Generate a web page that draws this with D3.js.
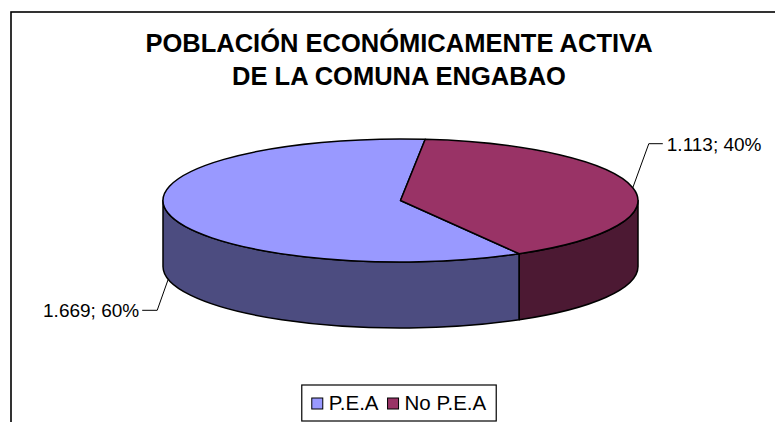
<!doctype html>
<html>
<head>
<meta charset="utf-8">
<style type="text/css">
html,body{
    margin: 0;
    overflow: hidden;
    background: #ffffff;
}
text {
    font-family: "Liberation Sans", Arial, sans-serif;
    fill: #000000;
}
</style>
<script type="text/javascript" src="https://cdn.jsdelivr.net/npm/d3@7/dist/d3.min.js"></script>
</head>
<body>
<script type="text/javascript">
// data
var categories = ["P.E.A", "No P.E.A"],
    values = [1669, 1113],
    labels = ["1.669; 60%", "1.113; 40%"],
    titleLines = ["POBLACIÓN ECONÓMICAMENTE ACTIVA", "DE LA COMUNA ENGABAO"];

(function(){
    var w = 775, h = 422,
        cx = 400.5, cy = 200.5,   // centre of the top face
        rx = 237.5, ry = 61.5,
        depth = 66,
        deg = Math.PI / 180;

    var topColor = d3.scaleOrdinal().domain(categories).range(["#9999ff", "#993366"]),
        sideColor = d3.scaleOrdinal().domain(categories).range(["#4c4c80", "#4c1933"]);

    // label leader elbows, relative to the point on the slice edge
    var leaderLayout = [
        {dx: -11, dy: 31, run: -15, anchor: "end"},
        {dx: 16, dy: -44, run: 14, anchor: "start"}
    ];

    var svg = d3.select("body").append("svg")
        .attr("width", w)
        .attr("height", h);

    // outer chart frame, runs off the right and bottom edges
    svg.append("rect")
        .attr("x", 11).attr("y", 12)
        .attr("width", 800).attr("height", 500)
        .attr("fill", "none")
        .attr("stroke", "#000")
        .attr("stroke-width", 1.6);

    svg.selectAll("text.title")
        .data(titleLines)
        .enter().append("text")
            .attr("class", "title")
            .attr("x", 399)
            .attr("y", function(d, i){ return 52 + i * 33; })
            .attr("text-anchor", "middle")
            .style("font-size", "25.5px")
            .style("font-weight", "bold")
            .text(function(d){ return d; });

    // d3 pie angles are from 12 o'clock; t is the screen angle from 3 o'clock
    var pie = d3.pie().sort(null)
        .startAngle(150 * deg)
        .endAngle(510 * deg);
    var arcs = pie(values).map(function(d, i){
        return {
            name: categories[i],
            label: labels[i],
            t0: d.startAngle / deg - 90,
            t1: d.endAngle / deg - 90
        };
    });

    function px(t){ return cx + rx * Math.cos(t * deg); }
    function py(t, z){ return cy + (z || 0) + ry * Math.sin(t * deg); }

    // side walls: only the front half (0..180) is seen
    var sides = [];
    arcs.forEach(function(a){
        [-360, 0, 360].forEach(function(k){
            var s = Math.max(a.t0, k), e = Math.min(a.t1, k + 180);
            if (e > s) sides.push({name: a.name, t0: s, t1: e});
        });
    });

    svg.selectAll("path.side")
        .data(sides)
        .enter().append("path")
            .attr("class", "side")
            .attr("d", function(d){
                return "M" + px(d.t0) + "," + py(d.t0) +
                    "A" + rx + "," + ry + " 0 0 1 " + px(d.t1) + "," + py(d.t1) +
                    "L" + px(d.t1) + "," + py(d.t1, depth) +
                    "A" + rx + "," + ry + " 0 0 0 " + px(d.t0) + "," + py(d.t0, depth) + "Z";
            })
            .attr("fill", function(d){ return sideColor(d.name); })
            .attr("stroke", "#000")
            .attr("stroke-width", 1.5)
            .attr("stroke-linejoin", "round");

    svg.selectAll("path.top")
        .data(arcs)
        .enter().append("path")
            .attr("class", "top")
            .attr("d", function(d){
                var large = (d.t1 - d.t0) > 180 ? 1 : 0;
                return "M" + cx + "," + cy +
                    "L" + px(d.t0) + "," + py(d.t0) +
                    "A" + rx + "," + ry + " 0 " + large + " 1 " + px(d.t1) + "," + py(d.t1) + "Z";
            })
            .attr("fill", function(d){ return topColor(d.name); })
            .attr("stroke", "#000")
            .attr("stroke-width", 1.5)
            .attr("stroke-linejoin", "round");

    // data labels with leader lines
    arcs.forEach(function(a, i){
        var m = (a.t0 + a.t1) / 2,
            front = Math.sin(m * deg) > 0,
            x0 = px(m), y0 = py(m, front ? depth : 0),
            L = leaderLayout[i],
            x1 = x0 + L.dx, y1 = y0 + L.dy,
            x2 = x1 + L.run;
        svg.append("path")
            .attr("d", "M" + x0 + "," + y0 + "L" + x1 + "," + y1 + "L" + x2 + "," + y1)
            .attr("fill", "none")
            .attr("stroke", "#000")
            .attr("stroke-width", 1);
        svg.append("text")
            .attr("x", x2 + (L.run < 0 ? -3 : 4))
            .attr("y", y1 + 7)
            .attr("text-anchor", L.anchor)
            .style("font-size", "19px")
            .text(a.label);
    });

    // legend
    var legend = svg.append("g");
    var box = legend.append("rect")
        .attr("y", 385)
        .attr("height", 36)
        .attr("fill", "#fff")
        .attr("stroke", "#000")
        .attr("stroke-width", 1.2);
    var xPos = 0;
    var items = legend.selectAll("g.item")
        .data(categories)
        .enter().append("g")
            .attr("class", "item");
    items.append("rect")
        .attr("y", 398).attr("width", 11).attr("height", 11)
        .attr("fill", function(d){ return topColor(d); })
        .attr("stroke", "#000")
        .attr("stroke-width", 1);
    items.append("text")
        .attr("y", 410)
        .style("font-size", "20.5px")
        .text(function(d){ return d; });
    items.each(function(){
        var g = d3.select(this),
            tw = g.select("text").node().getComputedTextLength();
        g.select("rect").attr("x", xPos);
        g.select("text").attr("x", xPos + 17);
        xPos += 17 + tw + 9;
    });
    var legendW = xPos - 9 + 20,
        lx = 399 - legendW / 2;
    box.attr("x", lx).attr("width", legendW);
    items.attr("transform", "translate(" + (lx + 10) + ",0)");
})();
</script>
</body>
</html>
